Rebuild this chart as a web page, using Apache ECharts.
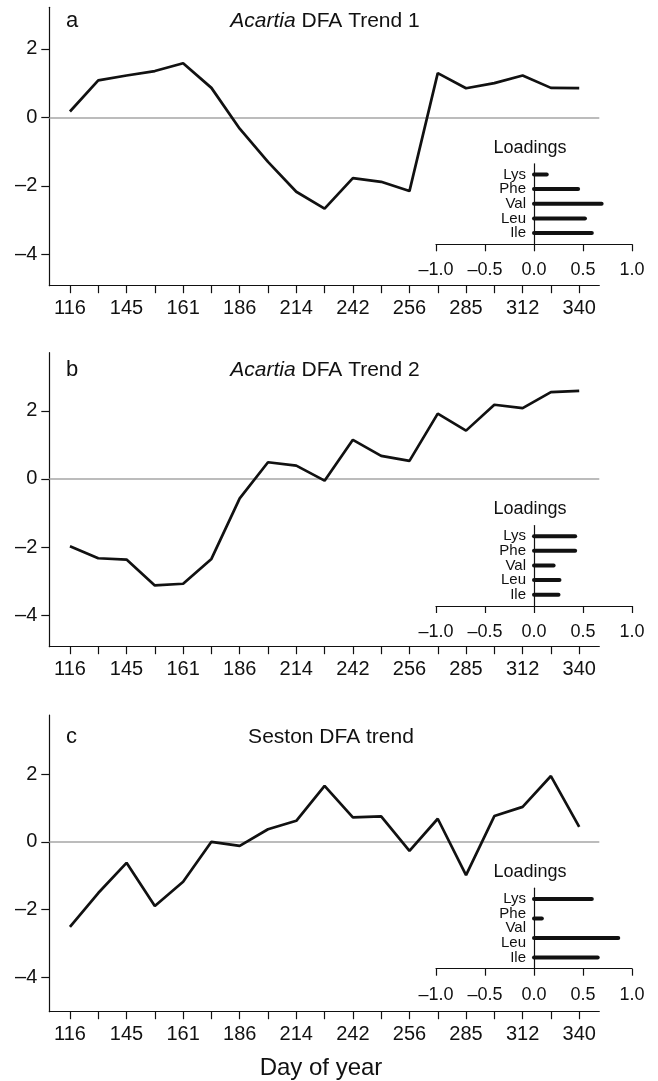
<!DOCTYPE html>
<html><head><meta charset="utf-8">
<script src="https://cdn.jsdelivr.net/npm/echarts@6/dist/echarts.min.js"></script>
<style>html,body{margin:0;padding:0;background:#fff}#c{width:658px;height:1081px}</style>
</head><body><div id="c"></div>
<script>
// ---- data ----
const days = [116,130,145,153,161,174,186,200,214,228,242,249,256,270,285,298,312,326,340];
const labeledIdx = [0,2,4,6,8,10,12,14,16,18];
const trend1 = [0.17,1.08,1.22,1.35,1.58,0.86,-0.33,-1.30,-2.17,-2.66,-1.77,-1.88,-2.15,1.29,0.85,1.00,1.22,0.86,0.85];
const trend2 = [-1.98,-2.33,-2.37,-3.13,-3.08,-2.35,-0.57,0.49,0.39,-0.05,1.15,0.68,0.53,1.92,1.42,2.18,2.08,2.55,2.59];
const seston = [-2.51,-1.51,-0.62,-1.89,-1.18,0.00,-0.12,0.37,0.62,1.65,0.72,0.75,-0.27,0.68,-0.98,0.76,1.03,1.94,0.44];
const aminoNames = ['Lys','Phe','Val','Leu','Ile'];
const loadA = [0.13,0.45,0.69,0.52,0.59];
const loadB = [0.42,0.42,0.20,0.26,0.25];
const loadC = [0.59,0.08,null,0.86,0.65];
const yTicks = [-4,-2,0,2];
const loadTicks = [-1,-0.5,0,0.5,1];
const panelLetters = ['a','b','c'];
const panelTitles = ['{i|Acartia} DFA Trend 1','{i|Acartia} DFA Trend 2','Seston DFA trend'];

// ---- layout ----
const FONT = '"Liberation Sans", Arial, Helvetica, sans-serif';
const INK = '#111';
const panels = [
  {top:7.3, bottom:285.7, ymin:-4.91, ymax:3.21, zero:117.3, series:trend1, load:loadA, spread:false},
  {top:352.7, bottom:646.7, ymin:-4.93, ymax:3.71, zero:479, series:trend2, load:loadB, spread:false},
  {top:715, bottom:1011.7, ymin:-5.01, ymax:3.74, zero:841.7, series:seston, load:loadC, spread:true}
];
const plotLeft = 49.3, plotRight = 599.3;
const insetLeft = 436, insetWidth = 196, insetH = 80.5;
const slotPos = [4.77,3.77,2.77,1.77,0.77]; // label slots top->bottom
const slotName = v => aminoNames[Math.round(slotPos[0]-v)];
const slotsEven = slotPos.filter((s,i)=>i%2===0);
const slotsOdd = slotPos.filter((s,i)=>i%2===1);

const grids = [], xAxes = [], yAxes = [], series = [], graphics = [];
panels.forEach((p, k) => {
  // main plot
  const gi = grids.length, xi = xAxes.length, yi = yAxes.length;
  grids.push({left:plotLeft, width:plotRight-plotLeft, top:p.top, height:p.bottom-p.top});
  xAxes.push({gridIndex:gi, type:'value', min:-0.73, max:18.71,
    axisLine:{onZero:false, lineStyle:{color:INK, width:1.2}},
    axisTick:{customValues:days.map((d,i)=>i), length:7.5, lineStyle:{color:INK, width:1.2}},
    axisLabel:{customValues:labeledIdx, formatter:v=>String(days[Math.round(v)]), color:INK, fontSize:20, fontFamily:FONT, margin:13},
    splitLine:{show:false}});
  yAxes.push({gridIndex:gi, type:'value', min:p.ymin, max:p.ymax,
    axisLine:{show:true, onZero:false, lineStyle:{color:INK, width:1.2}},
    axisTick:{customValues:yTicks, length:8, lineStyle:{color:INK, width:1.2}},
    axisLabel:{customValues:yTicks, formatter:v=> (v<0?'\u2013':'')+Math.abs(v), color:INK, fontSize:20, fontFamily:FONT, margin:12},
    splitLine:{show:false}});
  series.push({type:'line', xAxisIndex:xi, yAxisIndex:yi, data:p.series.map((v,i)=>[i,v]),
    symbol:'none', lineStyle:{color:INK, width:2.7}, z:3,
    markLine:{silent:true, symbol:'none', label:{show:false}, lineStyle:{color:'#a6a6a6', width:1.5, type:'solid'}, data:[{yAxis:0}], z:1}});

  // inset: full -1..1 axis grid
  const axisY = p.zero + 127;
  const ii = grids.length, ixi = xAxes.length, iyi = yAxes.length;
  grids.push({left:insetLeft, width:insetWidth, top:axisY-insetH, height:insetH});
  xAxes.push({gridIndex:ii, type:'value', min:-1, max:1,
    axisLine:{onZero:false, lineStyle:{color:INK, width:1.2}},
    axisTick:{customValues:loadTicks, length:7, lineStyle:{color:INK, width:1.2}},
    axisLabel:{customValues:loadTicks, formatter:v=>(v<0?'\u2013':'')+Math.abs(v).toFixed(1), color:INK, fontSize:18, fontFamily:FONT, margin:17},
    splitLine:{show:false}});
  yAxes.push({gridIndex:ii, type:'value', min:0, max:5.5, show:false});
  // inset: 0..1 grid whose left edge is the zero line, carrying the name axes
  const li = grids.length;
  grids.push({left:insetLeft+insetWidth/2, width:insetWidth/2, top:axisY-insetH, height:insetH});
  xAxes.push({gridIndex:li, type:'value', min:0, max:1, show:false});
  [slotsEven, slotsOdd].forEach((vals, j) => {
    yAxes.push({gridIndex:li, type:'value', min:0, max:5.5, position:'left', offset:0,
      axisLine:{show:j===0, onZero:false, lineStyle:{color:INK, width:1.2}},
      axisTick:{show:false},
      axisLabel:{customValues:vals, formatter:v=>slotName(v), color:INK, fontSize:15, fontFamily:FONT, margin:8},
      splitLine:{show:false}});
  });
  let pts = [];
  if (p.spread) {
    const present = p.load.map((v,i)=>[v,i]).filter(a=>a[0]!==null);
    const n = present.length;
    pts = present.map((a,j)=>[a[0], slotPos[0] - j*(slotPos[0]-slotPos[4])/(n-1)]);
  } else {
    pts = p.load.map((v,i)=>[v, slotPos[i]]);
  }
  series.push({type:'custom', xAxisIndex:ixi, yAxisIndex:iyi, data:pts, z:4,
    renderItem:(params, api)=>{
      const v = api.value(0), y = api.value(1);
      const a = api.coord([0,y]), b = api.coord([v,y]);
      return {type:'line', shape:{x1:a[0], y1:a[1], x2:b[0], y2:b[1]}, style:{stroke:INK, lineWidth:4, lineCap:'round'}};
    }});
  graphics.push({type:'text', x:530, y:axisY-96.5, style:{text:'Loadings', font:'18px '+FONT, fill:INK, align:'center', verticalAlign:'middle'}});
});

const titleY = [18, 366.5, 733.5];
const titleX = [320, 320, 326];
const titles = [];
panels.forEach((p,k)=>{
  titles.push({text:panelLetters[k], left:61, top:titleY[k]-13, textStyle:{fontSize:22, fontWeight:'normal', color:INK, fontFamily:FONT}});
  titles.push({text:panelTitles[k], left:titleX[k], textAlign:'center', top:titleY[k]-12,
    textStyle:{fontSize:21, fontWeight:'normal', color:INK, fontFamily:FONT,
      rich:{i:{fontStyle:'italic', fontSize:21, color:INK, fontFamily:FONT}}}});
});
graphics.push({type:'text', x:321, y:1068, style:{text:'Day of year', font:'24px '+FONT, fill:INK, align:'center', verticalAlign:'middle'}});

const chart = echarts.init(document.getElementById('c'), null, {renderer:'canvas'});
chart.setOption({animation:false, backgroundColor:'#fff', title:titles, grid:grids, xAxis:xAxes, yAxis:yAxes, series:series, graphic:graphics});
</script></body></html>
